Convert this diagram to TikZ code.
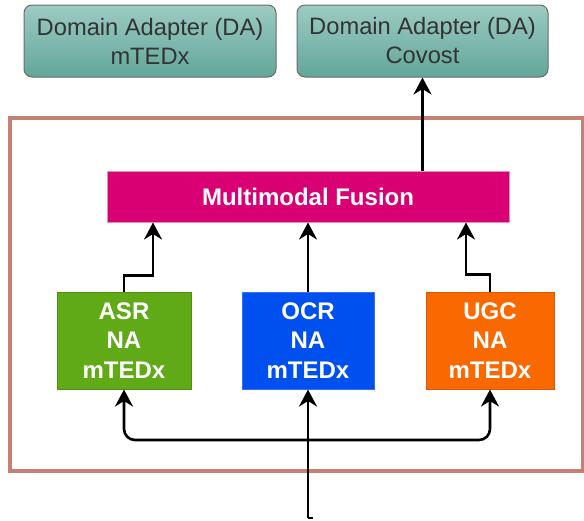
\documentclass[tikz,border=0pt]{standalone}
\usepackage{fontspec}
\setmainfont{Liberation Sans}
\usetikzlibrary{arrows.meta,calc}
\definecolor{datop}{HTML}{9CCBC2}
\definecolor{dabot}{HTML}{62A69A}
\definecolor{dadraw}{HTML}{6B6B6B}
\definecolor{datext}{HTML}{333333}
\definecolor{framec}{HTML}{C97E74}
\definecolor{fusfill}{HTML}{D80073}
\definecolor{fusdraw}{HTML}{E98DBA}
\definecolor{asrfill}{HTML}{60A917}
\definecolor{asrdraw}{HTML}{4E9012}
\definecolor{ocrfill}{HTML}{0050EF}
\definecolor{ocrdraw}{HTML}{3A6FF0}
\definecolor{ugcfill}{HTML}{FA6800}
\definecolor{ugcdraw}{HTML}{D95A00}
\tikzset{
  dabox/.style={draw=dadraw, line width=1pt, rounded corners=8pt, top color=datop, bottom color=dabot,
    text=datext, align=center, inner sep=0pt, font=\fontsize{23.7}{29}\selectfont},
  fusbox/.style={draw=fusdraw, line width=1pt, fill=fusfill, text=white, inner sep=0pt,
    font=\fontsize{24}{29}\selectfont\bfseries},
  nabox/.style={line width=1pt, text=white, align=center, inner sep=0pt,
    font=\fontsize{24}{29.5}\selectfont\bfseries},
  arr/.style={draw=black, line width=2.6pt, >={Stealth[length=17pt,width=18pt,inset=5.5pt]}, ->},
  framebox/.style={draw=framec, line width=4pt}
}
\begin{document}
\begin{tikzpicture}[x=1pt,y=-1pt]
\useasboundingbox (0,0) rectangle (584,520);
\draw[framebox] (9.5,117.5) rectangle (583,470.5);
\node[dabox, minimum width=252pt, minimum height=72pt] (da1) at (150,41) {Domain Adapter (DA)\\mTEDx};
\node[dabox, minimum width=251pt, minimum height=72pt] (da2) at (422.5,41) {Domain Adapter (DA)\\Covost};
\node[fusbox, minimum width=402pt, minimum height=51pt] (fus) at (308,196.5) {Multimodal Fusion};
\node[nabox, draw=asrdraw, fill=asrfill, minimum width=134pt, minimum height=97pt] (asr) at (124,340.5) {ASR\\NA\\mTEDx};
\node[nabox, draw=ocrdraw, fill=ocrfill, minimum width=132pt, minimum height=97pt] (ocr) at (308,340.5) {OCR\\NA\\mTEDx};
\node[nabox, draw=ugcdraw, fill=ugcfill, minimum width=128pt, minimum height=97pt] (ugc) at (490,340.5) {UGC\\NA\\mTEDx};
% fusion to DA Covost
\draw[arr] (fus.north -| da2.south) -- (da2.south);
% NA boxes to fusion
\draw[arr] (asr.north) -- ++(0,-16) -| ($(fus.south)+(-155,0)$);
\draw[arr] (ocr.north) -- (fus.south);
\draw[arr] (ugc.north) -- ++(0,-17) -| ($(fus.south)+(158,0)$);
% input
\coordinate (src) at (308,518);
\coordinate (br) at (308,440);
\draw[arr] (src) -- (ocr.south);
\draw[arr, rounded corners=11pt] (br) -| (asr.south);
\draw[arr, rounded corners=11pt] (br) -| (ugc.south);
\draw[draw=black, line width=1.2pt] (src) -- ++(5,0);
\end{tikzpicture}
\end{document}
